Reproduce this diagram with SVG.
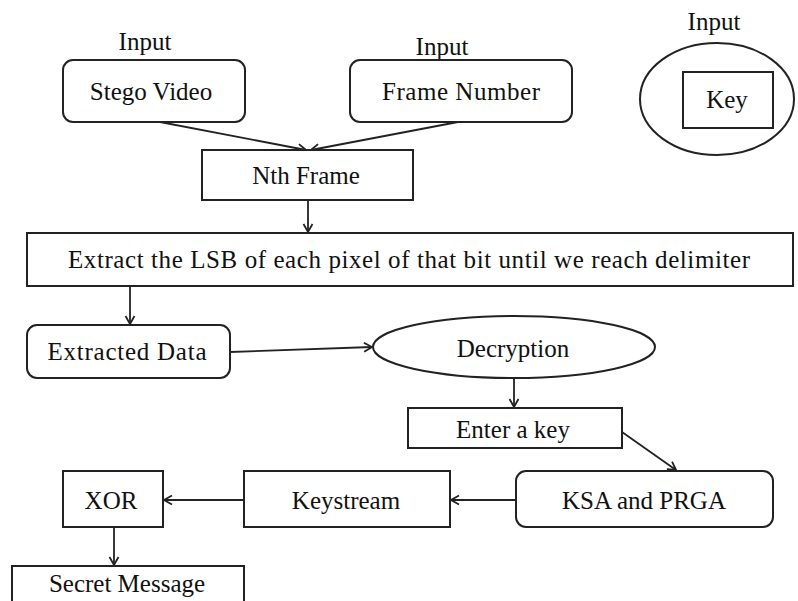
<svg xmlns="http://www.w3.org/2000/svg" width="798" height="601" viewBox="0 0 798 601">
<defs>
<marker id="arr" markerWidth="12" markerHeight="12" refX="10" refY="6" orient="auto" markerUnits="userSpaceOnUse">
<path d="M2,1.5 L10,6 L2,10.5" fill="none" stroke="#222" stroke-width="1.8"/>
</marker>
<style>
.b{fill:#fff;stroke:#222;stroke-width:2}
.t{font-family:"Liberation Serif","Times New Roman",serif;font-size:25px;fill:#111;text-anchor:middle}
.c{fill:none;stroke:#222;stroke-width:1.8;marker-end:url(#arr)}
</style>
</defs>
<rect width="798" height="601" fill="#fff"/>
<g id="connectors">
<line class="c" x1="160" y1="122" x2="306" y2="150"/>
<line class="c" x1="458" y1="122" x2="311" y2="150"/>
<line class="c" x1="308" y1="200" x2="308" y2="232"/>
<line class="c" x1="130" y1="286" x2="130" y2="324"/>
<line class="c" x1="230" y1="352" x2="372" y2="347"/>
<line class="c" x1="514" y1="378" x2="514" y2="407"/>
<line class="c" x1="622" y1="432" x2="676" y2="470"/>
<line class="c" x1="516" y1="500" x2="451" y2="500"/>
<line class="c" x1="244" y1="500" x2="164" y2="500"/>
<line class="c" x1="114" y1="527" x2="114" y2="565"/>
</g>
<g id="input-stego">
<text class="t" x="145" y="50">Input</text>
<rect class="b" x="63" y="60" width="182" height="62" rx="10"/>
<text class="t" x="151" y="100">Stego Video</text>
</g>
<g id="input-frame">
<text class="t" x="442" y="55">Input</text>
<rect class="b" x="350" y="60" width="222" height="62" rx="10"/>
<text class="t" x="461" y="100" textLength="158" lengthAdjust="spacing">Frame  Number</text>
</g>
<g id="input-key">
<text class="t" x="714" y="30">Input</text>
<ellipse class="b" cx="717" cy="99" rx="77" ry="56"/>
<rect class="b" x="683" y="72" width="90" height="56"/>
<text class="t" x="727" y="108">Key</text>
</g>
<g id="nth-frame">
<rect class="b" x="202" y="150" width="211" height="50"/>
<text class="t" x="306" y="184">Nth Frame</text>
</g>
<g id="extract">
<rect class="b" x="27" y="233" width="766" height="53"/>
<text class="t" x="68" y="268" style="text-anchor:start" textLength="682" lengthAdjust="spacing">Extract  the LSB  of each pixel  of that bit until we reach delimiter</text>
</g>
<g id="extracted-data">
<rect class="b" x="27" y="325" width="203" height="53" rx="10"/>
<text class="t" x="127" y="360" textLength="159" lengthAdjust="spacing">Extracted  Data</text>
</g>
<g id="decryption">
<ellipse class="b" cx="514" cy="347" rx="141" ry="31"/>
<text class="t" x="513" y="357">Decryption</text>
</g>
<g id="enter-key">
<rect class="b" x="408" y="408" width="214" height="40"/>
<text class="t" x="513" y="438">Enter a key</text>
</g>
<g id="ksa-prga">
<rect class="b" x="516" y="471" width="257" height="56" rx="10"/>
<text class="t" x="644" y="509">KSA and PRGA</text>
</g>
<g id="keystream">
<rect class="b" x="244" y="471" width="206" height="56"/>
<text class="t" x="346" y="509">Keystream</text>
</g>
<g id="xor">
<rect class="b" x="63" y="471" width="100" height="56"/>
<text class="t" x="111" y="509">XOR</text>
</g>
<g id="secret-message">
<rect class="b" x="12" y="566" width="232" height="45"/>
<text class="t" x="127" y="592">Secret Message</text>
</g>
</svg>
